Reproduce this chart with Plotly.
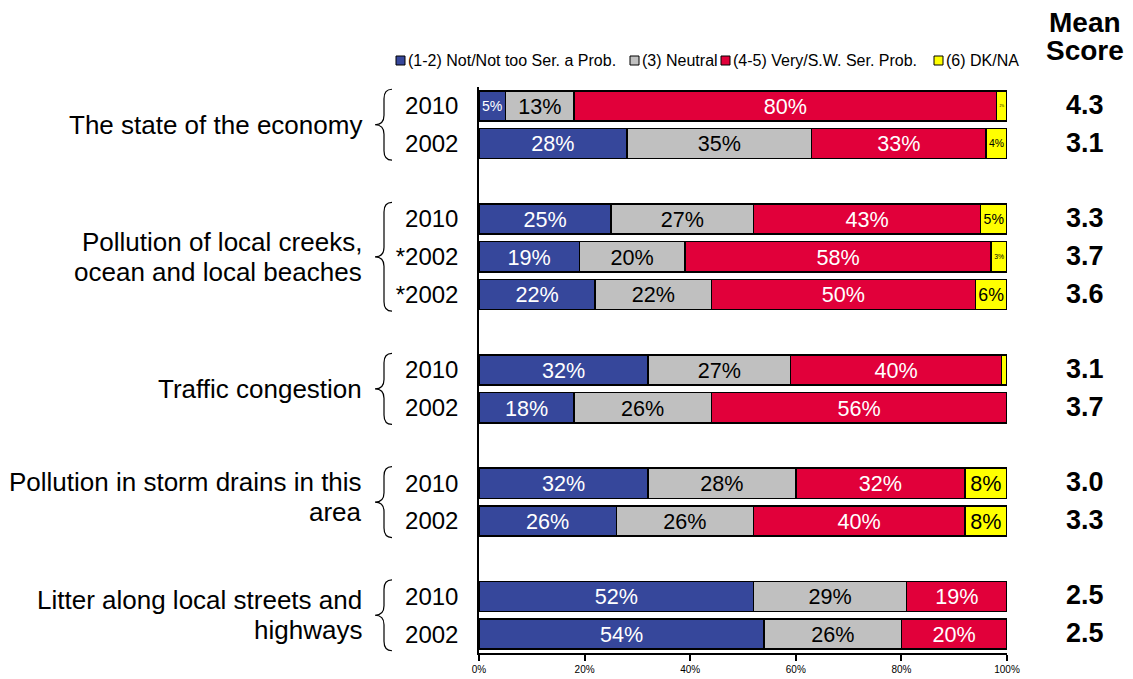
import plotly.graph_objects as go

# ---------------- data ----------------
groups = [
    "The state of the economy",
    "Pollution of local creeks,<br>ocean and local beaches",
    "Traffic congestion",
    "Pollution in storm drains in this<br>area",
    "Litter along local streets and<br>highways",
]
group_years = [
    ["2010", "2002"],
    ["2010", "*2002", "*2002"],
    ["2010", "2002"],
    ["2010", "2002"],
    ["2010", "2002"],
]
series_names = [
    "(1-2) Not/Not too Ser. a Prob.",
    "(3) Neutral",
    "(4-5) Very/S.W. Ser. Prob.",
    "(6) DK/NA",
]
not_serious = [5, 28, 25, 19, 22, 32, 18, 32, 26, 52, 54]
neutral = [13, 35, 27, 20, 22, 27, 26, 28, 26, 29, 26]
serious = [80, 33, 43, 58, 50, 40, 56, 32, 40, 19, 20]
dk_na = [2, 4, 5, 3, 6, 1, 0, 8, 8, 0, 0]
mean_scores = [4.3, 3.1, 3.3, 3.7, 3.6, 3.1, 3.7, 3.0, 3.3, 2.5, 2.5]
x_ticks = [0, 20, 40, 60, 80, 100]

# ---------------- layout helpers ----------------
W, H = 1133, 679
L, R, T, B = 479, 126, 87, 26
PW, PH = W - L - R, H - T - B
FONT = "Liberation Sans, Arial, Helvetica, sans-serif"


def px_x(px):
    return (px - L) / PW


def px_y(py):
    return (H - B - py) / PH


# row positions: one empty slot between groups
positions, years, group_rows = [], [], []
pos = 0
for yrs in group_years:
    rows = []
    for yr in yrs:
        positions.append(pos)
        years.append(yr)
        rows.append(pos)
        pos += 1
    group_rows.append(rows)
    pos += 1
last_pos = positions[-1]

series_values = [not_serious, neutral, serious, dk_na]
colors = ["#36479B", "#C0C0C0", "#E1003A", "#FFFF00"]
text_colors = ["white", "black", "white", "black"]

fig = go.Figure()
for name, vals, col, tcol in zip(series_names, series_values, colors, text_colors):
    fig.add_trace(go.Bar(
        name=name,
        y=positions,
        x=vals,
        orientation="h",
        width=0.8,
        marker=dict(color=col, line=dict(color="black", width=1.5)),
        text=[f"{v}%" if v >= 2 else "" for v in vals],
        textposition="inside",
        insidetextanchor="middle",
        textangle=0,
        insidetextfont=dict(family=FONT, size=25, color=tcol),
        showlegend=False,
        hoverinfo="x+name",
    ))

annotations = []
shapes = []

# category labels (one annotation per line for tight line spacing) and braces
LINE_GAP = 30
for label, rows in zip(groups, group_rows):
    ymid = (rows[0] + rows[-1]) / 2
    extra = 5 if label.startswith("Pollution in storm") else 0
    lines = label.split("<br>")
    n = len(lines)
    for i, line in enumerate(lines):
        shift = ((n - 1) / 2 - i) * LINE_GAP + extra
        annotations.append(dict(
            text=line, xref="paper", yref="y", x=px_x(364), y=ymid,
            xanchor="right", yanchor="middle", align="right", showarrow=False,
            yshift=shift, font=dict(family=FONT, size=26, color="black"),
        ))
    ytop, ybot, d = rows[0] - 0.44, rows[-1] + 0.44, 0.25
    xe, xs, xt = px_x(392), px_x(384), px_x(375)
    path = (f"M {xe},{ytop} Q {xs},{ytop} {xs},{ytop + d} L {xs},{ymid - d} "
            f"Q {xs},{ymid} {xt},{ymid} Q {xs},{ymid} {xs},{ymid + d} "
            f"L {xs},{ybot - d} Q {xs},{ybot} {xe},{ybot}")
    shapes.append(dict(type="path", path=path, xref="paper", yref="y",
                       line=dict(color="black", width=1.2)))

# mean scores
for p, m in zip(positions, mean_scores):
    annotations.append(dict(
        text=f"<b>{m:.1f}</b>", xref="paper", yref="y", x=px_x(1085), y=p,
        xanchor="center", yanchor="middle", showarrow=False, yshift=1,
        font=dict(family=FONT, size=27, color="black"),
    ))
for txt, py in [("Mean", 22), ("Score", 51)]:
    annotations.append(dict(
        text=f"<b>{txt}</b>", xref="paper", yref="paper", x=px_x(1085), y=px_y(py),
        xanchor="center", yanchor="middle", showarrow=False,
        font=dict(family=FONT, size=28, color="black"),
    ))

# legend (manual, compact like the reference)
leg_x = [396, 630, 721, 934]
leg_y = 60
for name, col, lx in zip(series_names, colors, leg_x):
    shapes.append(dict(type="rect", xref="paper", yref="paper",
                       x0=px_x(lx), x1=px_x(lx + 9), y0=px_y(leg_y + 5), y1=px_y(leg_y - 4),
                       fillcolor=col, line=dict(color="black", width=1)))
    annotations.append(dict(
        text=name, xref="paper", yref="paper", x=px_x(lx + 10), y=px_y(leg_y),
        xanchor="left", yanchor="middle", showarrow=False,
        font=dict(family=FONT, size=16, color="black"),
    ))

fig.update_layout(
    barmode="stack",
    width=W, height=H,
    margin=dict(l=L, r=R, t=T, b=B, autoexpand=False),
    paper_bgcolor="white", plot_bgcolor="white",
    font=dict(family=FONT, color="black"),
    annotations=annotations,
    shapes=shapes,
    showlegend=False,
    xaxis=dict(
        range=[0, 100], tickvals=x_ticks, ticktext=[f"{v}%" for v in x_ticks],
        showgrid=False, zeroline=False, showline=True, linecolor="black", linewidth=1.5,
        ticks="outside", ticklen=6, tickwidth=1.5, tickcolor="black", automargin=False,
        tickfont=dict(family=FONT, size=10, color="black"), fixedrange=True,
    ),
    yaxis=dict(
        range=[last_pos + 0.5, -0.5], tickvals=positions, ticktext=years,
        showgrid=False, zeroline=False, showline=True, linecolor="black", linewidth=1.5,
        ticks="", ticklabelstandoff=14, automargin=False,
        tickfont=dict(family=FONT, size=24, color="black"), fixedrange=True,
    ),
)

fig.write_html("out.html")
